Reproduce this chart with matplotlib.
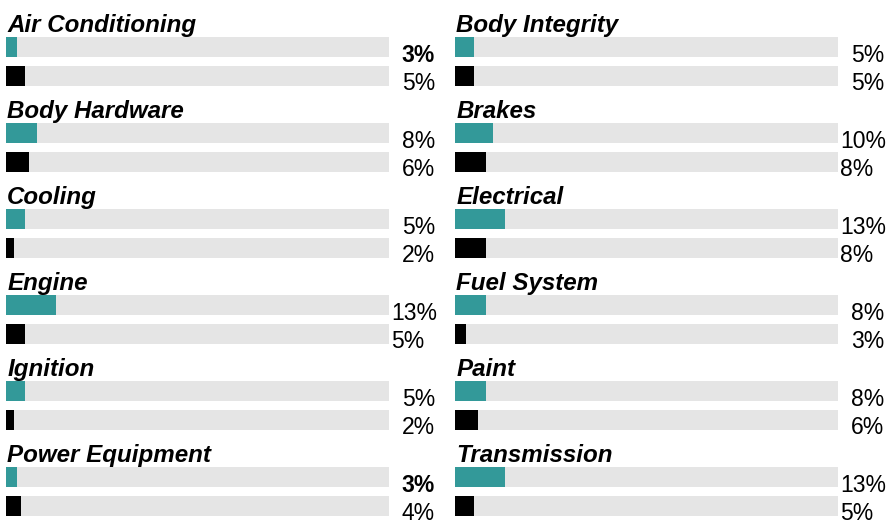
import matplotlib
matplotlib.use('Agg')
from matplotlib import pyplot as plt

plt.rcParams['font.family'] = ['Liberation Sans', 'DejaVu Sans']

categories_left = ['Air Conditioning', 'Body Hardware', 'Cooling', 'Engine',
                   'Ignition', 'Power Equipment']
teal_left = [3, 8, 5, 13, 5, 3]
black_left = [5, 6, 2, 5, 2, 4]

categories_right = ['Body Integrity', 'Brakes', 'Electrical', 'Fuel System',
                    'Paint', 'Transmission']
teal_right = [5, 10, 13, 8, 8, 13]
black_right = [5, 8, 8, 3, 6, 5]

teal = '#339999'
track = '#e5e5e5'

W, H = 887, 521
fig = plt.figure(figsize=(W / 100, H / 100), dpi=100)


def draw_column(left_px, cats, v1, v2, right_text_px):
    ax = fig.add_axes([left_px / W, 0, 383 / W, 1])
    ax.set_xlim(0, 100)
    ax.set_ylim(H, 0)
    ax.axis('off')
    px = 100 / 383.0  # data units per pixel along x
    right_x = (right_text_px - left_px) * px
    for i, cat in enumerate(cats):
        y0 = 86 * i
        ax.text(0.3, y0 + 32, cat, fontsize=17.4, fontweight='bold',
                fontstyle='italic', va='baseline', ha='left')
        # grey tracks
        ax.barh([y0 + 47, y0 + 76], [100, 100], height=20, color=track,
                linewidth=0)
        ax.barh(y0 + 47, v1[i], height=20, color=teal, linewidth=0)
        ax.barh(y0 + 76, v2[i], height=20, color='black', linewidth=0)
        labels = ['{}%'.format(v1[i]), '{}%'.format(v2[i])]
        # groups with a 3-char label sit flush against the track end
        wide = max(len(s) for s in labels) > 2
        bold = v1[i] < v2[i]
        for j, (lab, yb) in enumerate(zip(labels, [y0 + 62, y0 + 90])):
            weight = 'bold' if (j == 0 and bold) else 'normal'
            if wide:
                ax.text(100.5, yb, lab, fontsize=16.5, ha='left',
                        va='baseline', fontweight=weight, clip_on=False)
            else:
                ax.text(right_x, yb, lab, fontsize=16.5, ha='right',
                        va='baseline', fontweight=weight, clip_on=False)
    return ax


draw_column(6, categories_left, teal_left, black_left, 435)
draw_column(455, categories_right, teal_right, black_right, 884)

plt.savefig('out.png', dpi=100)
